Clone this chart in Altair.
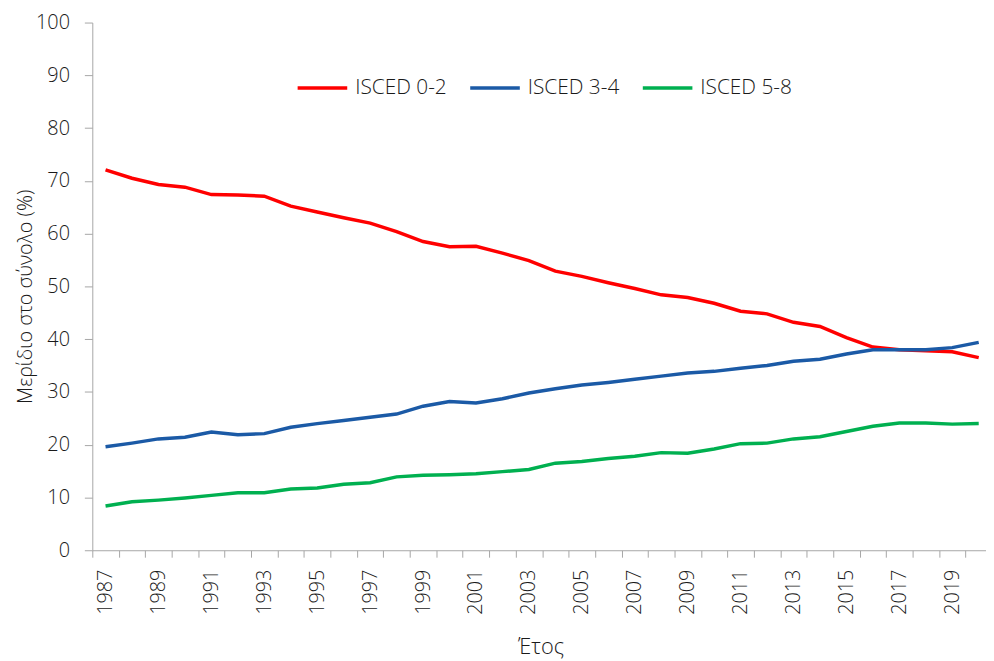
import altair as alt
import pandas as pd

years = list(range(1987, 2021))
isced_02 = [72.1, 70.5, 69.3, 68.8, 67.4, 67.3, 67.1, 65.2, 64.1, 63.0, 62.0, 60.4,
            58.5, 57.5, 57.6, 56.3, 54.9, 52.9, 51.9, 50.7, 49.6, 48.4, 47.9, 46.8,
            45.3, 44.8, 43.2, 42.4, 40.3, 38.5, 38.0, 37.8, 37.6, 36.5]
isced_34 = [19.6, 20.3, 21.1, 21.4, 22.4, 21.9, 22.1, 23.3, 24.0, 24.6, 25.2, 25.8,
            27.3, 28.2, 27.9, 28.7, 29.8, 30.6, 31.3, 31.8, 32.4, 33.0, 33.6, 33.9,
            34.5, 35.0, 35.8, 36.2, 37.2, 38.0, 38.0, 38.0, 38.4, 39.4]
isced_58 = [8.4, 9.2, 9.5, 9.9, 10.4, 10.9, 10.9, 11.6, 11.8, 12.5, 12.8, 13.9,
            14.2, 14.3, 14.5, 14.9, 15.3, 16.5, 16.8, 17.4, 17.8, 18.5, 18.4, 19.2,
            20.2, 20.3, 21.1, 21.5, 22.5, 23.5, 24.1, 24.1, 23.9, 24.0]
series = ["ISCED 0-2", "ISCED 3-4", "ISCED 5-8"]
colors = ["#FF0000", "#1B5AA6", "#00B050"]

rows = []
for name, vals in zip(series, [isced_02, isced_34, isced_58]):
    for y, v in zip(years, vals):
        rows.append({"year": y, "value": v, "series": name})
df = pd.DataFrame(rows)

FONT = "Open Sans"
TXT = "#1a1a1a"
W = 300

chart = alt.Chart(df).mark_line(strokeWidth=3.5).encode(
    x=alt.X("year:O", bandPosition=0.5,
            scale=alt.Scale(type="band", paddingInner=0, paddingOuter=0, range=[0, 907]),
            axis=alt.Axis(title="Έτος", labelAngle=-90, tickBand="extent",
                          labelExpr="datum.value % 2 == 1 ? datum.label : ''",
                          labelOverlap=False, labelAlign="right", labelBaseline="middle",
                          tickSize=7, labelPadding=12,
                          titleX=452, titleY=104, titleBaseline="alphabetic", titleAlign="center",
                          labelFontSize=20, titleFontSize=22,
                          labelFont=FONT, titleFont=FONT,
                          labelFontWeight=W, titleFontWeight=W,
                          labelColor=TXT, titleColor=TXT,
                          domainColor="#A6A6A6", tickColor="#A6A6A6", grid=False)),
    y=alt.Y("value:Q", scale=alt.Scale(domain=[0, 100]),
            axis=alt.Axis(title="Μερίδιο στο σύνολο (%)", values=list(range(0, 101, 10)),
                          tickSize=8, labelPadding=15,
                          titleX=-67, titleY=276, titleAngle=-90, titleBaseline="middle",
                          titleAlign="center",
                          labelFontSize=20, titleFontSize=20,
                          labelFont=FONT, titleFont=FONT,
                          labelFontWeight=W, titleFontWeight=W,
                          labelColor=TXT, titleColor=TXT,
                          domainColor="#A6A6A6", tickColor="#A6A6A6", grid=False)),
    color=alt.Color("series:N", scale=alt.Scale(domain=series, range=colors),
                    legend=alt.Legend(title=None, orient="none", direction="horizontal",
                                      legendX=205, legendY=39, symbolType="stroke",
                                      symbolSize=2500, symbolStrokeWidth=3.5,
                                      labelFontSize=21, labelFont=FONT, labelFontWeight=W,
                                      labelColor=TXT, columnPadding=16, labelOffset=6)),
).properties(
    width=901, height=532,
    autosize=alt.AutoSizeParams(type="none"),
    padding={"left": 85, "top": 12, "right": 0, "bottom": 110},
).configure_view(stroke=None)

chart.save("out.html", embed_options={"renderer": "svg", "actions": False})
